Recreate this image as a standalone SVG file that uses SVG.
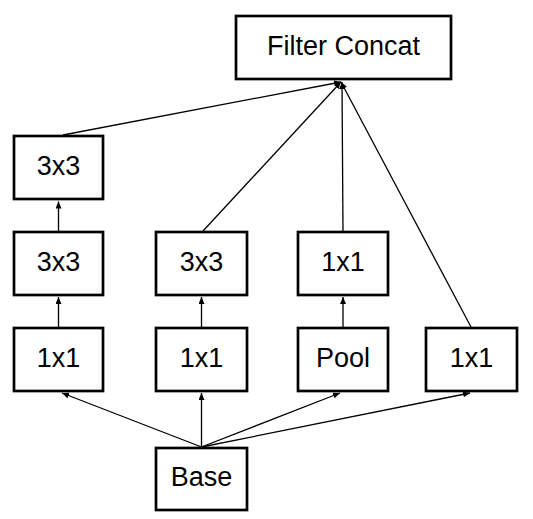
<svg xmlns="http://www.w3.org/2000/svg" width="533" height="519" viewBox="0 0 533 519">
<defs>
<marker id="ah" markerUnits="userSpaceOnUse" markerWidth="8" markerHeight="6" refX="7" refY="3" orient="auto">
<path d="M0,0 L7,3 L0,6 z" fill="#000"/>
</marker>
<style>
.box{fill:#fff;stroke:#000;stroke-width:2.7}
.lbl{font-family:"Liberation Sans",Arial,sans-serif;font-size:27px;fill:#000;text-anchor:middle}
.edge{stroke:#000;stroke-width:1.3;fill:none;marker-end:url(#ah)}
</style>
</defs>
<rect width="533" height="519" fill="#fff"/>
<g id="connectors">
<line class="edge" x1="63" y1="135" x2="341" y2="82"/>
<line class="edge" x1="203" y1="231" x2="341" y2="82"/>
<line class="edge" x1="343" y1="231" x2="342" y2="82"/>
<line class="edge" x1="471" y1="327" x2="341" y2="82"/>
<line class="edge" x1="58.5" y1="231" x2="58.5" y2="201.5"/>
<line class="edge" x1="58.5" y1="327" x2="58.5" y2="297"/>
<line class="edge" x1="201.5" y1="327" x2="201.5" y2="297"/>
<line class="edge" x1="343" y1="327" x2="343" y2="297"/>
<line class="edge" x1="201.5" y1="447" x2="62" y2="393"/>
<line class="edge" x1="201.5" y1="447" x2="201.5" y2="393"/>
<line class="edge" x1="201.5" y1="447" x2="340" y2="393"/>
<line class="edge" x1="201.5" y1="447" x2="470" y2="393"/>
</g>
<g id="filter-concat"><rect class="box" x="236" y="16" width="215" height="63"/><text class="lbl" x="343.5" y="55">Filter Concat</text></g>
<g id="c1-3x3-top"><rect class="box" x="14" y="136" width="89" height="63"/><text class="lbl" x="58.5" y="175">3x3</text></g>
<g id="c1-3x3"><rect class="box" x="14" y="232" width="89" height="63"/><text class="lbl" x="58.5" y="271">3x3</text></g>
<g id="c1-1x1"><rect class="box" x="14" y="328" width="89" height="63"/><text class="lbl" x="58.5" y="367">1x1</text></g>
<g id="c2-3x3"><rect class="box" x="156" y="232" width="91" height="63"/><text class="lbl" x="201.5" y="271">3x3</text></g>
<g id="c2-1x1"><rect class="box" x="156" y="328" width="91" height="63"/><text class="lbl" x="201.5" y="367">1x1</text></g>
<g id="c3-1x1"><rect class="box" x="298" y="232" width="90" height="63"/><text class="lbl" x="343" y="271">1x1</text></g>
<g id="c3-pool"><rect class="box" x="298" y="328" width="90" height="63"/><text class="lbl" x="343" y="367">Pool</text></g>
<g id="c4-1x1"><rect class="box" x="426" y="328" width="91" height="63"/><text class="lbl" x="471.5" y="367">1x1</text></g>
<g id="base"><rect class="box" x="156" y="448" width="91" height="62"/><text class="lbl" x="201.5" y="486">Base</text></g>
</svg>
